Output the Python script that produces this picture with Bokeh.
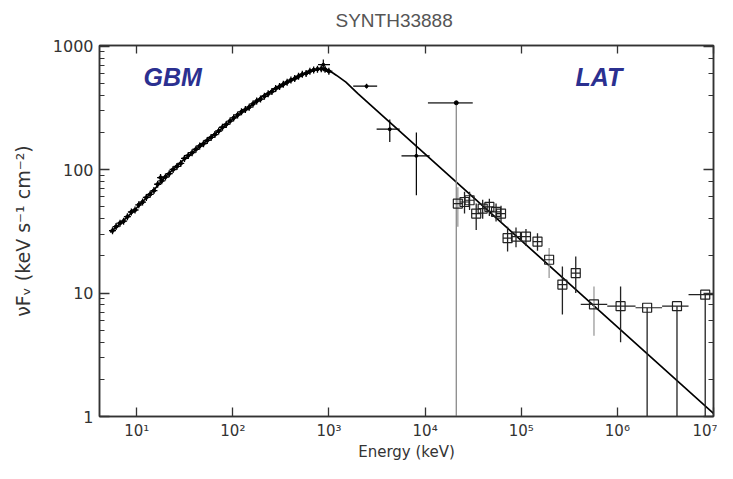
from bokeh.plotting import figure
from bokeh.models import (LogAxis, Label, BasicTickFormatter, ColumnDataSource,
                          Range1d)
from bokeh.embed import file_html
from bokeh.resources import INLINE

# ---------------- data ----------------
# model curve (Band-like), keV vs nuFnu
model_e = [5.3, 7, 10, 15, 20, 30, 50, 70, 100, 150, 200, 300, 400, 500,
           600, 700, 800, 900, 1000, 1100, 1200, 1500, 2000, 1e7]
model_f = [31, 37.5, 49, 68, 88, 118, 164, 203, 256, 324, 388, 470, 527, 580,
           615, 640, 652, 650, 630, 605, 578, 510, 412, 1.06]

# GBM NaI points
gbm_e = [5.6, 6.1, 6.7, 7.3, 8.0, 8.8, 9.6, 10.5, 11.5, 12.6, 13.8, 15.1, 16.5,
         17.7, 18.2, 19.9, 21.8, 23.9, 26.2, 28.7, 31.4, 34.4, 37.7, 41.3,
         45.2, 49.5, 54.2, 59.4, 65, 71.2, 78, 85.4, 93.5, 102, 112, 123, 135,
         148, 162, 177, 194, 213, 233, 255, 279, 306, 335, 367, 402, 440, 482,
         528, 578, 633, 693, 759, 831, 910, 997]
gbm_f = [32, 34.5, 36.8, 38.2, 41.5, 45.3, 47, 51.8, 54.5, 59.4, 63, 67.5, 76,
         86, 81, 87, 92.5, 100, 106, 112, 123, 130, 137, 146, 155, 162, 172,
         182, 192, 205, 220, 232, 247, 262, 277, 293, 306, 320, 340, 358, 372,
         392, 410, 428, 452, 470, 490, 510, 530, 545, 568, 590, 600, 625, 640,
         650, 655, 648, 625]

# GBM BGO points
bgo_e = [873, 2460, 4290, 8110]
bgo_f = [706, 473, 212, 129]
bgo_elo = [769, 1787, 3130, 5680]
bgo_ehi = [1025, 3170, 5440, 11150]
bgo_flo = [624, 452, 167, 62]
bgo_fhi = [779, 495, 254, 199]

# LLE point (upper limit style)
lle_e = [21100]
lle_f = [347]
lle_elo = [10700]
lle_ehi = [31300]
lle_flo = [0.5]
lle_fhi = [347]

# LAT points (dark error bars)
lat_e = [25700, 29000, 34000, 39700, 46600, 54700, 61600, 72100, 88200,
         112000, 147600, 268000, 369000, 1.08e6, 2.04e6, 4.17e6, 8.2e6]
lat_f = [54.6, 56.4, 44, 48.3, 49.8, 45.4, 44, 27.8, 28.6, 28.6, 26.1, 11.7,
         14.5, 7.83, 7.6, 7.83, 9.7]
lat_elo = [23000, 26000, 30400, 35500, 41700, 49000, 55100, 64500, 78900,
           100000, 132000, 240000, 330000, 785000, 1.545e6, 2.92e6, 5.5e6]
lat_ehi = [28700, 32400, 38000, 44300, 52100, 61100, 68800, 80600, 98600,
           125000, 165000, 300000, 412000, 1.545e6, 2.92e6, 5.5e6, 1e7]
lat_flo = [44, 47, 32.4, 40, 42, 38, 37, 21.7, 23.5, 24, 22, 6.7, 10, 4.0,
           0.5, 0.5, 0.5]
lat_fhi = [66, 66, 53, 57, 58, 53, 51, 34.4, 34, 33, 30.5, 16.4, 19.8, 11.3,
           7.6, 7.83, 9.7]

# LAT points (light error bars)
latg_e = [21900, 195000, 571000]
latg_f = [53, 18.6, 8.09]
latg_elo = [19600, 174000, 416000]
latg_ehi = [24500, 218000, 785000]
latg_flo = [34.4, 13.2, 4.5]
latg_fhi = [72, 23.1, 11.3]

x_ticks = [10, 100, 1000, 10000, 100000, 1000000, 10000000]
x_tick_labels = ["10¹", "10²", "10³", "10⁴", "10⁵", "10⁶", "10⁷"]
y_ticks = [1, 10, 100, 1000]
y_tick_labels = ["1", "10", "100", "1000"]

# ---------------- figure ----------------
AX = "#333333"
FONT = "DejaVu Sans"

p = figure(x_axis_type="log", y_axis_type="log",
           x_range=Range1d(4.1, 1e7), y_range=Range1d(1, 1010),
           width=717, height=463, output_backend="svg", toolbar_location=None,
           title="SYNTH33888",
           min_border_left=99, min_border_right=4,
           min_border_top=44, min_border_bottom=45)
p.grid.visible = False
p.outline_line_color = AX
p.outline_line_width = 1.5

p.title.align = "left"
p.title.offset = 236
p.title.vertical_align = "top"
p.title.standoff = 18
p.title.text_font = "Liberation Sans"
p.title.text_font_size = "19px"
p.title.text_font_style = "normal"
p.title.text_color = "#555555"

xa = p.xaxis[0]
xa.formatter = BasicTickFormatter()
xa.major_label_overrides = dict(zip(x_ticks, x_tick_labels))
xa.major_tick_in = 9
xa.major_tick_out = 0
xa.major_label_standoff = 1
xa.axis_label = "Energy (keV)"
xa.axis_label_standoff = 0

ya = p.yaxis[0]
ya.formatter = BasicTickFormatter()
ya.major_label_overrides = dict(zip(y_ticks, y_tick_labels))
ya.major_tick_in = 10
ya.major_tick_out = 0
ya.minor_tick_in = 5
ya.minor_tick_out = 0
ya.major_label_standoff = 6
ya.axis_label = "νFᵥ (keV s⁻¹ cm⁻²)"
ya.axis_label_standoff = 16

for ax in (xa, ya):
    ax.axis_line_color = AX
    ax.axis_line_width = 1.5
    ax.major_tick_line_color = AX
    ax.major_tick_line_width = 1.3
    ax.major_label_text_font = FONT
    ax.major_label_text_font_size = "16px"
    ax.major_label_text_color = "#333333"
    ax.axis_label_text_font = FONT
    ax.axis_label_text_font_size = "19px"
    ax.axis_label_text_font_style = "normal"
    ax.axis_label_text_color = "#333333"
xa.minor_tick_line_color = None
ya.minor_tick_line_color = AX
xa.major_label_text_font_size = "15px"
xa.axis_label_text_font_size = "15px"

top = LogAxis(major_label_text_font_size="1px", major_label_text_alpha=0,
              major_label_standoff=0,
              major_tick_in=8, major_tick_out=0, minor_tick_line_color=None,
              axis_line_color=AX, axis_line_width=1.5,
              major_tick_line_color=AX, major_tick_line_width=1.3)
right = LogAxis(major_label_text_font_size="1px", major_label_text_alpha=0,
                major_label_standoff=0,
                major_tick_in=10, major_tick_out=0, minor_tick_in=5,
                minor_tick_out=0, minor_tick_line_color=AX,
                axis_line_color=AX, axis_line_width=1.5,
                major_tick_line_color=AX, major_tick_line_width=1.3)
p.add_layout(top, "above")
p.add_layout(right, "right")

# model
p.line(model_e, model_f, line_color="black", line_width=1.7)

# GBM points
p.scatter(gbm_e, gbm_f, marker="cross", size=7, line_color="black",
          line_width=1.3)
p.scatter(gbm_e, gbm_f, marker="circle", size=3.5, fill_color="black",
          line_color="black")

# BGO crosses
bgo = ColumnDataSource(dict(e=bgo_e, f=bgo_f, elo=bgo_elo, ehi=bgo_ehi,
                            flo=bgo_flo, fhi=bgo_fhi))
p.segment(x0="elo", x1="ehi", y0="f", y1="f", source=bgo, line_color="black",
          line_width=1.2)
p.segment(x0="e", x1="e", y0="flo", y1="fhi", source=bgo, line_color="black",
          line_width=1.2)
p.scatter("e", "f", source=bgo, size=3, color="black")

# LLE point
lle = ColumnDataSource(dict(e=lle_e, f=lle_f, elo=lle_elo, ehi=lle_ehi,
                            flo=lle_flo, fhi=lle_fhi))
p.segment(x0="e", x1="e", y0="flo", y1="fhi", source=lle, line_color="#8a8a8a",
          line_width=1.3)
p.segment(x0="elo", x1="ehi", y0="f", y1="f", source=lle, line_color="#555555",
          line_width=1.8)
p.scatter("e", "f", source=lle, size=4, color="black")

# LAT
lat = ColumnDataSource(dict(e=lat_e, f=lat_f, elo=lat_elo, ehi=lat_ehi,
                            flo=lat_flo, fhi=lat_fhi))
latg = ColumnDataSource(dict(e=latg_e, f=latg_f, elo=latg_elo, ehi=latg_ehi,
                             flo=latg_flo, fhi=latg_fhi))
for src, col in ((lat, "#222222"), (latg, "#9a9a9a")):
    p.segment(x0="e", x1="e", y0="flo", y1="fhi", source=src, line_color=col,
              line_width=1.3)
    p.segment(x0="elo", x1="ehi", y0="f", y1="f", source=src,
              line_color="#222222", line_width=1.2)
    p.scatter("e", "f", source=src, marker="square", size=9, fill_color=None,
              line_color="#222222", line_width=1.2)

# instrument labels
BLUE = "#2b3090"
p.add_layout(Label(x=44, y=340, x_units="screen", y_units="screen", text="GBM",
                   text_font="Liberation Sans", text_font_style="bold italic",
                   text_font_size="25px", text_color=BLUE,
                   text_baseline="alphabetic"))
p.add_layout(Label(x=476, y=340, x_units="screen", y_units="screen", text="LAT",
                   text_font="Liberation Sans", text_font_style="bold italic",
                   text_font_size="25px", text_color=BLUE,
                   text_baseline="alphabetic"))

open("out.html", "w").write(file_html(p, INLINE))
